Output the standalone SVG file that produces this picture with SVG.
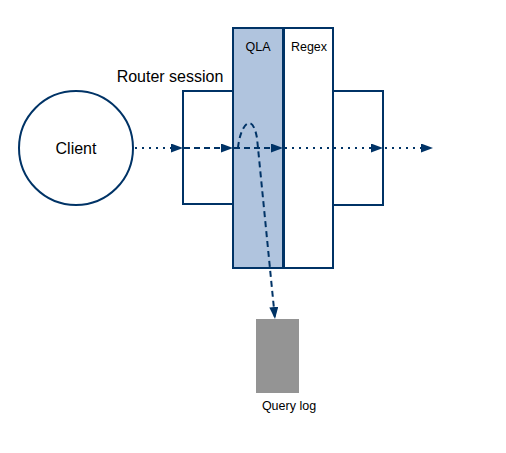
<svg xmlns="http://www.w3.org/2000/svg" width="506" height="453" viewBox="0 0 506 453">
<defs>
<marker id="ah" markerWidth="12" markerHeight="9" refX="12" refY="4.5" orient="auto" markerUnits="userSpaceOnUse">
<path d="M0,0 L12,4.5 L0,9 Z" fill="#003366"/>
</marker>
<style>
.box{fill:#ffffff;stroke:#003366;stroke-width:2}
.qla{fill:#b0c4de;stroke:#003366;stroke-width:2}
.t{font-family:"Liberation Sans",Arial,sans-serif;fill:#000000}
.dot{fill:none;stroke:#003366;stroke-width:2;stroke-dasharray:2 5}
.dash{fill:none;stroke:#003366;stroke-width:2;stroke-dasharray:6 4}
</style>
</defs>
<rect width="506" height="453" fill="#ffffff"/>
<g id="client">
<circle cx="76" cy="148" r="57" class="box"/>
<text x="76" y="154" class="t" font-size="16" text-anchor="middle">Client</text>
</g>
<g id="router-session">
<rect x="183" y="91" width="50" height="113" class="box"/>
<rect x="333" y="91" width="50" height="114" class="box"/>
<text x="170" y="82" class="t" font-size="16" text-anchor="middle">Router session</text>
</g>
<g id="qla">
<rect x="233" y="28" width="50" height="240" class="qla"/>
<text x="258" y="51" class="t" font-size="12.5" text-anchor="middle">QLA</text>
</g>
<g id="regex">
<rect x="284" y="28" width="49" height="240" class="box"/>
<text x="309" y="51" class="t" font-size="12.5" text-anchor="middle">Regex</text>
</g>
<g id="query-log">
<rect x="256" y="319" width="43" height="74" fill="#949494"/>
<text x="289" y="410" class="t" font-size="12.5" text-anchor="middle">Query log</text>
</g>
<g id="connectors">
<path d="M135,148 L183,148" class="dot" marker-end="url(#ah)"/>
<path d="M184,148 L233,148" class="dash" marker-end="url(#ah)"/>
<path d="M234,148 L283,148" class="dash" marker-end="url(#ah)"/>
<path d="M285,148 L383,148" class="dot" marker-end="url(#ah)"/>
<path d="M385,148 L433,148" class="dot" marker-end="url(#ah)"/>
<path d="M238,148 C240,126 252,110 257,138 L275,319" class="dash" marker-end="url(#ah)"/>
</g>
</svg>
